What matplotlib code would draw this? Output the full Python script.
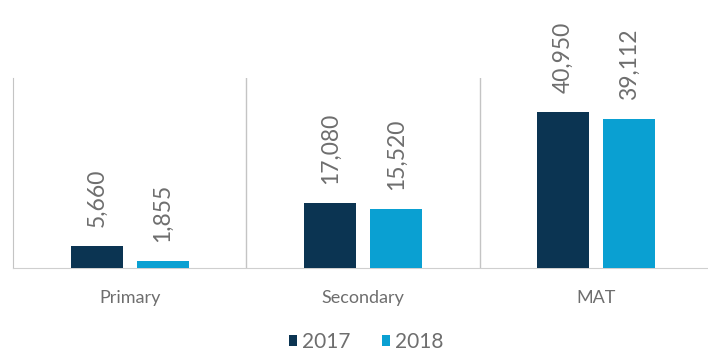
import matplotlib.pyplot as plt
import numpy as np

categories = ["Primary", "Secondary", "MAT"]
years = ["2017", "2018"]
values_2017 = [5660, 17080, 40950]
values_2018 = [1855, 15520, 39112]

colors = ["#0b3452", "#0aa0d2"]
text_color = "#6e6e6e"

plt.rcParams['font.family'] = ['Lato', 'DejaVu Sans']

fig = plt.figure(figsize=(7.08, 3.53), dpi=100)
ax = fig.add_axes([13 / 708, 85 / 353, 700 / 708, 190 / 353])

x = np.arange(len(categories))
width = 0.223
offset = 0.1415

for i, (vals, year) in enumerate(zip([values_2017, values_2018], years)):
    pos = x + (offset if i else -offset)
    bars = ax.bar(pos, vals, width, color=colors[i], label=year, zorder=3)
    for b, v in zip(bars, vals):
        ax.annotate(f"{v:,}", (b.get_x() + b.get_width() / 2, v),
                    xytext=(0, 14), textcoords="offset points",
                    rotation=90, ha="center", va="bottom", fontsize=16.5,
                    color=text_color)

ax.set_xlim(-0.5, 2.5)
ax.set_ylim(0, 50000)

# separators between groups
for sx in [0.5, 1.5]:
    ax.axvline(sx, color="#c4c4c4", lw=1)

for side in ["top", "right"]:
    ax.spines[side].set_visible(False)
ax.spines["left"].set_color("#c4c4c4")
ax.spines["bottom"].set_color("#cfcfcf")
ax.set_yticks([])
ax.set_xticks(x)
ax.set_xticklabels(categories, fontsize=13, color=text_color)
ax.tick_params(axis="x", length=0, pad=16)

leg = fig.legend(loc="center", bbox_to_anchor=(366 / 708, 11 / 353), ncol=2,
                 frameon=False, fontsize=15, handlelength=0.38, handleheight=0.38,
                 handletextpad=0.25, columnspacing=1.5)
for t in leg.get_texts():
    t.set_color(text_color)

fig.savefig("out.png", dpi=100)
